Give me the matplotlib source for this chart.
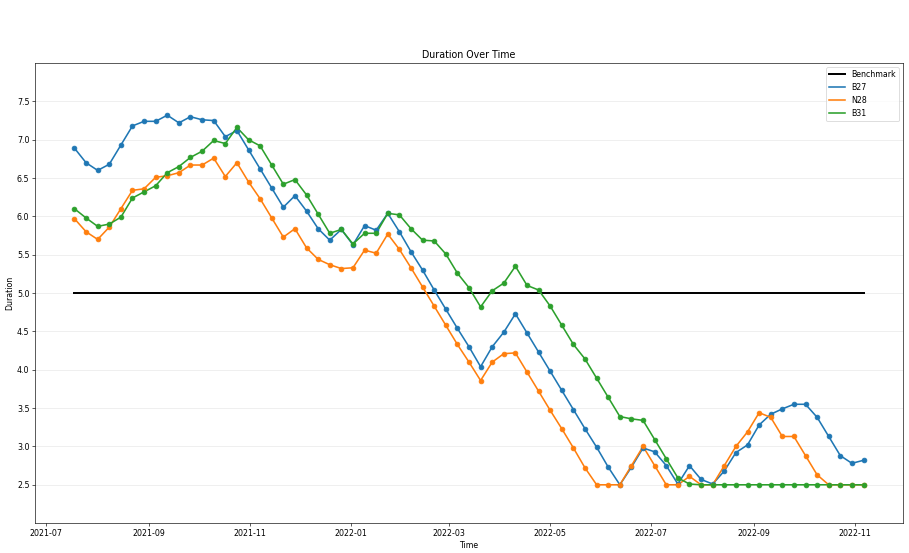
import numpy as np
import pandas as pd
import matplotlib
matplotlib.use("Agg")
import matplotlib.pyplot as plt
import matplotlib.dates as mdates

# weekly observations
fechas = pd.date_range("2021-07-18", periods=69, freq="7D")

b27 = [6.89, 6.70, 6.60, 6.68, 6.93, 7.18, 7.24, 7.24, 7.32, 7.22,
       7.30, 7.26, 7.25, 7.04, 7.12, 6.87, 6.62, 6.37, 6.12, 6.27,
       6.07, 5.84, 5.69, 5.83, 5.63, 5.88, 5.82, 6.04, 5.80, 5.54,
       5.30, 5.04, 4.79, 4.54, 4.30, 4.04, 4.30, 4.49, 4.73, 4.48,
       4.23, 3.98, 3.73, 3.48, 3.23, 2.99, 2.73, 2.50, 2.73, 2.98,
       2.93, 2.75, 2.51, 2.75, 2.57, 2.51, 2.68, 2.92, 3.02, 3.28,
       3.42, 3.49, 3.55, 3.55, 3.38, 3.13, 2.88, 2.78, 2.82]

n28 = [5.97, 5.80, 5.70, 5.86, 6.10, 6.34, 6.36, 6.51, 6.53, 6.57,
       6.67, 6.67, 6.76, 6.52, 6.70, 6.45, 6.23, 5.98, 5.73, 5.84,
       5.59, 5.44, 5.37, 5.32, 5.33, 5.56, 5.52, 5.77, 5.57, 5.33,
       5.08, 4.83, 4.58, 4.33, 4.10, 3.86, 4.10, 4.21, 4.22, 3.97,
       3.72, 3.47, 3.23, 2.98, 2.72, 2.50, 2.50, 2.50, 2.75, 3.00,
       2.75, 2.50, 2.50, 2.61, 2.50, 2.50, 2.75, 3.00, 3.19, 3.44,
       3.38, 3.13, 3.13, 2.88, 2.63, 2.50, 2.50, 2.50, 2.50]

b31 = [6.10, 5.98, 5.87, 5.90, 5.99, 6.24, 6.32, 6.40, 6.57, 6.65,
       6.77, 6.85, 6.99, 6.95, 7.16, 7.00, 6.92, 6.67, 6.42, 6.48,
       6.28, 6.03, 5.78, 5.83, 5.64, 5.78, 5.78, 6.04, 6.02, 5.84,
       5.69, 5.68, 5.51, 5.26, 5.07, 4.82, 5.03, 5.13, 5.35, 5.10,
       5.04, 4.83, 4.58, 4.33, 4.14, 3.89, 3.64, 3.39, 3.36, 3.34,
       3.09, 2.84, 2.59, 2.51, 2.50, 2.50, 2.50, 2.50, 2.50, 2.50,
       2.50, 2.50, 2.50, 2.50, 2.50, 2.50, 2.50, 2.50, 2.50]

benchmark = 5.0
series = {"B27": b27, "N28": n28, "B31": b31}
colores = {"B27": "tab:blue", "N28": "tab:orange", "B31": "tab:green"}

fig, ax = plt.subplots(figsize=(909 / 57, 553 / 57), dpi=57)
fig.subplots_adjust(left=0.0385, right=0.9934, bottom=0.054, top=0.886)

ax.plot([fechas[0], fechas[-1]], [benchmark, benchmark], color="black", lw=2.5, label="Benchmark")
for nombre, valores in series.items():
    ax.plot(fechas, valores, color=colores[nombre], lw=2, label=nombre)
    ax.scatter(fechas, valores, color=colores[nombre], zorder=3)

ax.set_ylim(2, 8)
ax.set_yticks(np.arange(2.5, 8.0, 0.5))
ax.xaxis.set_major_locator(mdates.MonthLocator(bymonth=[1, 3, 5, 7, 9, 11]))
ax.xaxis.set_major_formatter(mdates.DateFormatter("%Y-%m"))
ax.grid(axis="y", alpha=0.3)

ax.set_title("Duration Over Time")
ax.set_xlabel("Time")
ax.set_ylabel("Duration")
ax.legend(loc="upper right")

fig.savefig("out.png", dpi=57)
